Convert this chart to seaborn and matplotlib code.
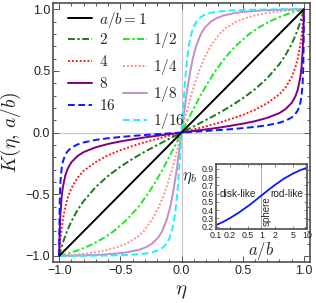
import numpy as np
import pandas as pd
import matplotlib
matplotlib.use('Agg')
import matplotlib.pyplot as plt
from matplotlib.lines import Line2D
from matplotlib.ticker import MultipleLocator, FixedLocator, NullFormatter
import seaborn as sns

# K(eta) for eta >= 0 (curves are odd in eta,
# and the 1/r curves are the mirror images of the r curves)
eta = [0, 0.1, 0.2, 0.3, 0.4, 0.5, 0.6, 0.7, 0.8, 0.85, 0.9, 0.93, 0.95,
       0.97, 0.98, 0.99, 0.995, 0.998, 0.999, 1.0]
k2 = [0, 0.050, 0.102, 0.155, 0.213, 0.277, 0.351, 0.440, 0.555, 0.628, 0.718,
      0.785, 0.836, 0.894, 0.927, 0.962, 0.980, 0.992, 0.996, 1.0]
k4 = [0, 0.025, 0.051, 0.078, 0.109, 0.143, 0.184, 0.238, 0.310, 0.365, 0.450,
      0.528, 0.600, 0.704, 0.776, 0.869, 0.928, 0.969, 0.984, 1.0]
k8 = [0, 0.013, 0.026, 0.039, 0.055, 0.072, 0.092, 0.119, 0.158, 0.190, 0.240,
      0.292, 0.347, 0.442, 0.522, 0.660, 0.780, 0.892, 0.942, 1.0]
k16 = [0, 0.006, 0.013, 0.020, 0.027, 0.036, 0.046, 0.059, 0.080, 0.096, 0.122,
       0.150, 0.180, 0.236, 0.290, 0.400, 0.528, 0.702, 0.813, 1.0]

# inset: eta_b vs a/b
ab = [0.1, 0.15, 0.2, 0.3, 0.5, 0.7, 1, 1.5, 2, 3, 5, 7, 10]
eta_b = [0.218, 0.264, 0.302, 0.361, 0.447, 0.509, 0.577, 0.655, 0.707,
         0.775, 0.845, 0.882, 0.913]

sns.set_theme(style='ticks')
plt.rcParams['font.family'] = ['Liberation Sans', 'DejaVu Sans']
plt.rcParams['mathtext.fontset'] = 'cm'
plt.rcParams['axes.edgecolor'] = '#555555'
plt.rcParams['xtick.color'] = '#555555'
plt.rcParams['ytick.color'] = '#555555'
plt.rcParams['xtick.labelcolor'] = '#222222'
plt.rcParams['ytick.labelcolor'] = '#222222'


def full(x, y):
    x = np.asarray(x)
    y = np.asarray(y)
    return np.concatenate([-x[::-1], x[1:]]), np.concatenate([-y[::-1], y[1:]])


fig = plt.figure(figsize=(3.16, 3.03), dpi=100)
ax = fig.add_axes([0.168, 0.135, 0.813, 0.855])

ax.axhline(0, color='#c8c8c8', lw=0.8, zorder=0)
ax.axvline(0, color='#c8c8c8', lw=0.8, zorder=0)

dashdot = (3.5, 1.3, 1.2, 1.3)
dotted = (1.0, 1.0)
dashed = (3.5, 1.8)
curves = [
    # label, x data, y data, colour, dashes
    ('$2$', eta, k2, '#1a7a1a', dashdot),
    ('$4$', eta, k4, '#ff1a1a', dotted),
    ('$8$', eta, k8, '#800080', None),
    ('$16$', eta, k16, '#0a1aff', dashed),
    ('$1/2$', k2, eta, '#22e622', dashdot),
    ('$1/4$', k4, eta, '#ff9090', dotted),
    ('$1/8$', k8, eta, '#c88cc8', None),
    ('$1/16$', k16, eta, '#22eeff', dashed),
]

handles = []
for lab, xs, ys, col, ds in curves:
    x, y = full(xs, ys)
    df = pd.DataFrame({'x': x, 'y': y})
    kw = dict(color=col, lw=1.4)
    if ds is not None:
        kw['dashes'] = ds
    sns.lineplot(data=df, x='x', y='y', ax=ax, sort=False, estimator=None, **kw)
    handles.append(Line2D([], [], **kw))

x, y = full(eta, eta)
sns.lineplot(data=pd.DataFrame({'x': x, 'y': y}), x='x', y='y', ax=ax,
             sort=False, estimator=None, color='black', lw=1.4)
h1 = Line2D([], [], color='black', lw=1.4)

ax.set_xlim(-1.05, 1.05)
ax.set_ylim(-1.05, 1.05)
ax.xaxis.set_major_locator(MultipleLocator(0.5))
ax.yaxis.set_major_locator(MultipleLocator(0.5))
ax.xaxis.set_minor_locator(MultipleLocator(0.1))
ax.yaxis.set_minor_locator(MultipleLocator(0.1))
ax.tick_params(which='both', direction='in', top=True, right=True, width=0.7)
ax.tick_params(which='major', length=4, labelsize=9, pad=2)
ax.tick_params(which='minor', length=2)
ax.set_xlabel(r'$\eta$', fontsize=15, labelpad=4)
ax.set_ylabel(r'$K(\eta,\,a/b)$', fontsize=14, labelpad=2)

leg1 = ax.legend([h1], ['$a/b = 1$'], loc='upper left', bbox_to_anchor=(0.058, 0.975),
                 frameon=False, fontsize=11, handlelength=1.6, handletextpad=0.4,
                 borderpad=0, borderaxespad=0)
ax.add_artist(leg1)
ax.legend(handles, [c[0] for c in curves], ncol=2, loc='upper left',
          bbox_to_anchor=(0.058, 0.895), frameon=False, fontsize=11,
          handlelength=1.6, handletextpad=0.4, columnspacing=0.5,
          labelspacing=0.45, borderpad=0, borderaxespad=0)

# inset
ins = fig.add_axes([0.684, 0.244, 0.287, 0.215])
ins.axvline(1, color='#b0b0b0', lw=0.7, zorder=0)
sns.lineplot(data=pd.DataFrame({'ab': ab, 'eta_b': eta_b}), x='ab', y='eta_b',
             ax=ins, color='#0a1aff', lw=1.3)
ins.set_xscale('log')
ins.set_xlim(0.1, 10)
ins.set_ylim(0.17, 0.96)
ins.xaxis.set_major_locator(FixedLocator([0.1, 0.2, 0.5, 1, 2, 5, 10]))
ins.xaxis.set_major_formatter(plt.FixedFormatter(['0.1', '0.2', '0.5', '1', '2', '5', '10']))
ins.xaxis.set_minor_formatter(NullFormatter())
ins.yaxis.set_major_locator(MultipleLocator(0.1))
ins.tick_params(which='both', direction='in', top=True, right=True, width=0.5)
ins.tick_params(which='major', length=2, labelsize=6.3, pad=1.5)
ins.tick_params(which='minor', length=1)
ins.set_xlabel('$a/b$', fontsize=12, labelpad=0)
ins.set_ylabel(r'$\eta_b$', fontsize=12, rotation=0)
ins.yaxis.set_label_coords(-0.29, 0.66)
ins.text(0.3, 0.6, 'disk-like', fontsize=7.3, ha='center', va='center')
ins.text(3.6, 0.6, 'rod-like', fontsize=7.3, ha='center', va='center')
ins.text(1.32, 0.39, 'sphere', fontsize=7, rotation=90, ha='center', va='center')

fig.savefig('out.png', dpi=100)
